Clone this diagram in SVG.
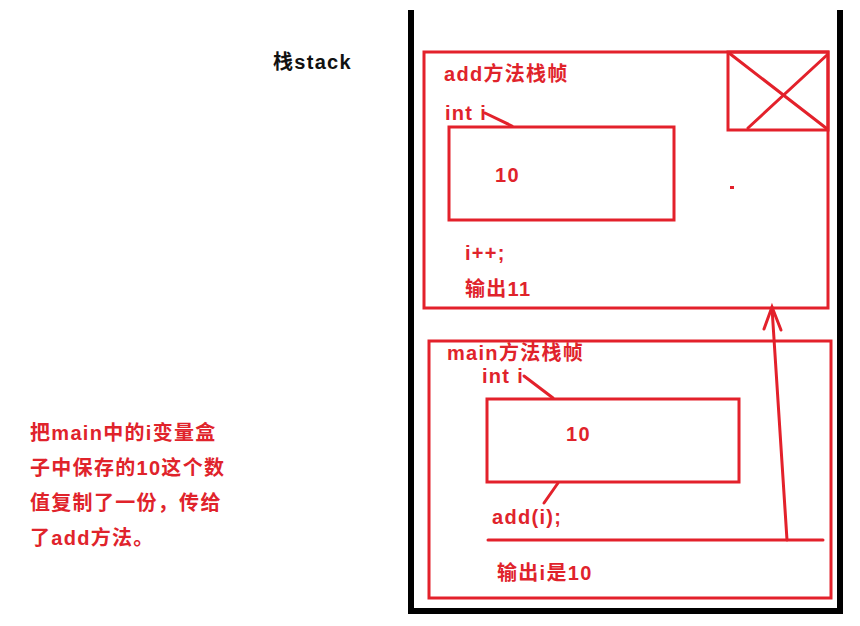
<svg xmlns="http://www.w3.org/2000/svg" width="860" height="626" viewBox="0 0 860 626">
<style>
.t{font-family:"Liberation Sans","Noto Sans CJK SC",sans-serif;font-weight:bold;fill:#e0232b;font-size:20px;letter-spacing:1.3px}
.k{fill:#111}
.box{fill:none;stroke:#e3212b;stroke-width:3}
.ln{stroke:#e3212b;stroke-width:3;fill:none;stroke-linecap:round}
.blk{stroke:#000;stroke-width:6;fill:none}
</style>
<rect width="860" height="626" fill="#fff"/>
<g id="title"><text class="t k" x="273" y="69" font-size="21">栈stack</text></g>
<g id="stack"><polyline class="blk" points="411,10 411,611 840,611 840,10"/></g>
<g id="add-frame">
<rect class="box" x="424" y="52" width="404" height="256"/>
<text class="t" x="444" y="81">add方法栈帧</text>
<text class="t" x="445" y="120">int i</text>
<rect class="box" x="449" y="127" width="225" height="93"/>
<text class="t" x="495" y="182">10</text>
<text class="t" x="465" y="260" letter-spacing="3">i++;</text>
<text class="t" x="465" y="296">输出11</text>
<rect x="730" y="186" width="4" height="3" fill="#e3212b"/>
</g>
<g id="xbox">
<rect class="box" x="728" y="52" width="100" height="78"/>
<line class="ln" x1="729" y1="53" x2="826" y2="128"/>
<line class="ln" x1="827" y1="55" x2="748" y2="128"/>
</g>
<g id="main-frame">
<rect class="box" x="429" y="341" width="402" height="257"/>
<text class="t" x="447" y="360">main方法栈帧</text>
<text class="t" x="482" y="383">int i</text>
<rect class="box" x="487" y="399" width="252" height="83"/>
<text class="t" x="566" y="441">10</text>
<text class="t" x="492" y="524">add(i);</text>
<text class="t" x="497" y="580">输出i是10</text>
</g>
<g id="note">
<text class="t" x="30" y="440" letter-spacing="2.3">把main中的i变量盒</text>
<text class="t" x="30" y="475" letter-spacing="2.3">子中保存的10这个数</text>
<text class="t" x="30" y="510" letter-spacing="2.3">值复制了一份，传给</text>
<text class="t" x="30" y="545" letter-spacing="2.3">了add方法。</text>
</g>
<g id="connectors">
<line class="ln" x1="485" y1="113" x2="512" y2="126"/>
<line class="ln" x1="524" y1="376" x2="553" y2="398"/>
<line class="ln" x1="558" y1="483" x2="544" y2="503"/>
<line class="ln" x1="488" y1="540" x2="823" y2="540"/>
<line class="ln" x1="787" y1="540" x2="772" y2="308"/>
<polyline class="ln" points="764,329 772,307 781,330"/>
</g>
</svg>
